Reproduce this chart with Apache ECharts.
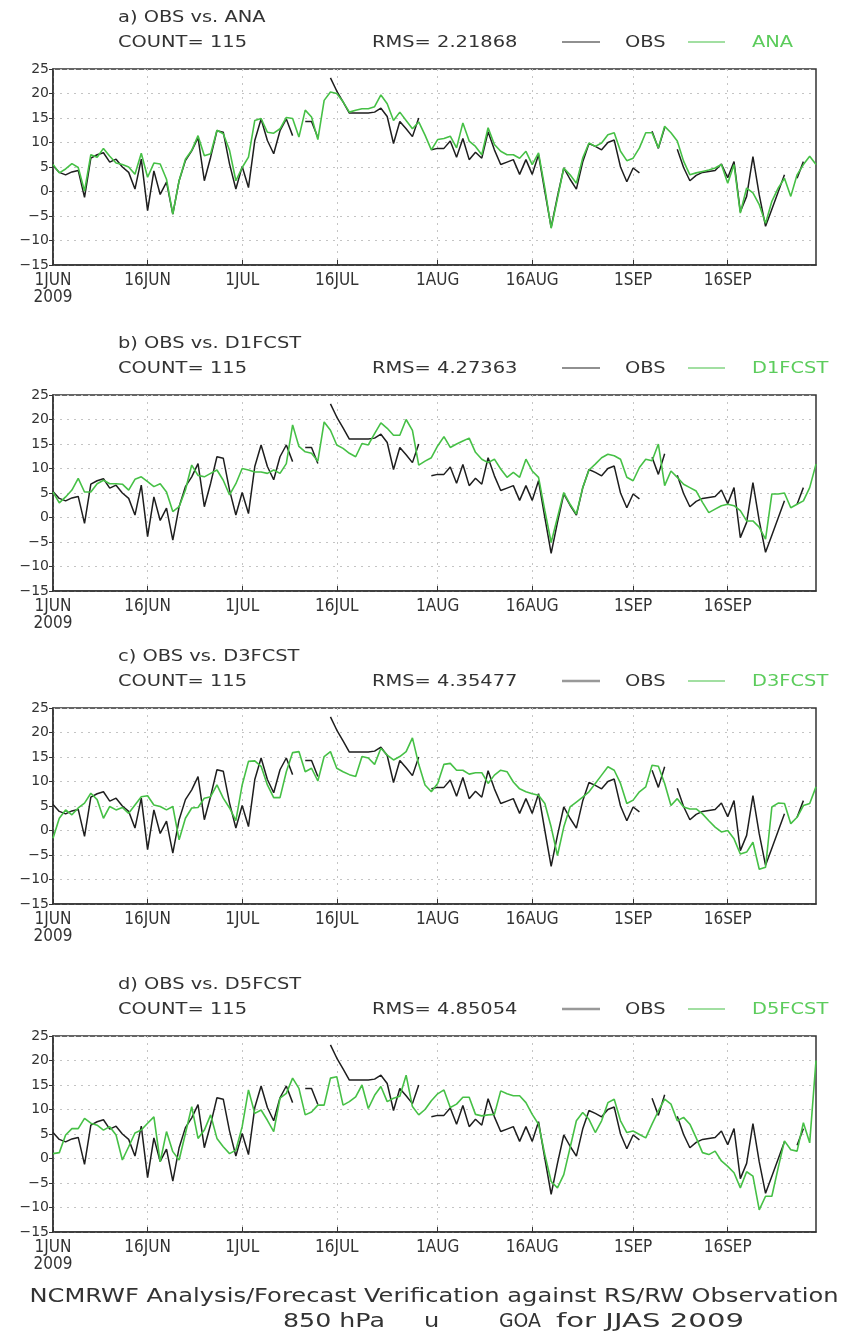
<!DOCTYPE html>
<html>
<head>
<meta charset="utf-8">
<script src="https://cdn.jsdelivr.net/npm/echarts@6/dist/echarts.min.js"></script>
<style>
  html, body { margin: 0; padding: 0; background: #fff; }
  #chart { width: 851px; height: 1335px; }
</style>
</head>
<body>
<div id="chart"></div>
<script>
// Daily categories, 1 Jun - 30 Sep 2009
const MONTHS = [['JUN', 30], ['JUL', 31], ['AUG', 31], ['SEP', 30]];
const days = [];
MONTHS.forEach(([m, n]) => { for (let i = 1; i <= n; i++) days.push(i + m); });

const TICK_DAYS = ['1JUN', '16JUN', '1JUL', '16JUL', '1AUG', '16AUG', '1SEP', '16SEP'];
const TICK_LABELS = ['1JUN\n2009', '16JUN', '1JUL', '16JUL', '1AUG', '16AUG', '1SEP', '16SEP'];

// Observed u (m/s), gaps are missing days
const obs = [
  5.3, 3.9, 3.4, 4.0, 4.3, -1.2, 6.8, 7.5, 7.9, 6.0,
  6.6, 5.0, 3.9, 0.5, 6.6, -3.9, 4.2, -0.6, 1.9, -4.6,
  2.2, 6.3, 8.3, 11.0, 2.2, 7.0, 12.4, 12.1, 5.6, 0.5,
  5.1, 0.8, 10.4, 14.8, 10.4, 7.7, 12.4, 14.8, 11.4, null,
  14.3, 14.3, 11.0, null, 23.2, 20.5, 18.3, 16.0, 16.0, 16.0,
  16.0, 16.2, 17.0, 15.3, 9.8, 14.3, 12.8, 11.2, 15.0, null,
  8.5, 8.8, 8.8, 10.3, 7.0, 10.8, 6.5, 8.0, 6.8, 12.2,
  8.5, 5.5, 6.0, 6.5, 3.5, 6.5, 3.5, 7.5, 0.0, -7.3,
  -1.0, 4.8, 2.5, 0.5, 6.0, 9.8, 9.2, 8.5, 10.0, 10.5,
  5.0, 2.0, 4.8, 3.8, null, 12.3, 8.8, 13.0, null, 8.6,
  4.9, 2.2, 3.3, 3.9, 4.1, 4.3, 5.6, 2.8, 6.1, -4.1,
  -1.0, 7.1, -0.7, -7.1, -3.6, -0.1, 3.4, null, 2.7, 6.1,
  null, null
];

const ana = [
  5.5, 3.8, 4.6, 5.7, 4.9, 0.1, 7.5, 7.0, 8.8, 7.2,
  5.8, 5.5, 5.0, 3.5, 7.8, 2.9, 5.8, 5.6, 2.5, -4.6,
  2.2, 6.6, 8.4, 11.4, 7.3, 7.7, 12.5, 11.8, 8.4, 2.2,
  4.9, 7.0, 14.5, 14.9, 12.1, 11.9, 12.8, 15.1, 14.9, 11.1,
  16.6, 15.2, 10.6, 18.6, 20.3, 20.0, 18.3, 16.2, 16.6, 16.9,
  16.9, 17.3, 19.7, 17.9, 14.5, 16.2, 14.5, 12.8, 14.2, 11.5,
  8.5, 10.6, 10.8, 11.3, 8.9, 14.0, 10.3, 9.2, 7.5, 13.0,
  9.6, 8.2, 7.5, 7.5, 6.8, 8.2, 5.5, 7.9, 0.7, -7.5,
  -1.4, 4.8, 3.4, 1.7, 6.8, 9.9, 9.2, 9.9, 11.6, 12.0,
  8.2, 6.3, 6.8, 8.9, 12.0, 12.0, 8.9, 13.3, 12.0, 10.3,
  6.2, 3.4, 3.8, 4.1, 4.4, 4.8, 5.5, 1.7, 5.5, -4.4,
  0.7, -0.3, -2.7, -6.5, -2.0, 0.7, 2.7, -1.0, 3.4, 5.5,
  7.2, 5.5
];

const d1fcst = [
  5.2, 3.0, 4.2, 5.6, 8.0, 5.2, 5.2, 6.9, 7.6, 6.9,
  6.9, 6.8, 5.6, 7.8, 8.3, 7.3, 6.3, 6.9, 5.2, 1.2,
  2.2, 5.6, 10.7, 8.6, 8.3, 9.0, 9.7, 7.6, 4.6, 6.9,
  10.0, 9.7, 9.3, 9.3, 9.0, 9.7, 9.0, 11.0, 18.9, 14.5,
  13.4, 13.1, 11.5, 19.5, 17.8, 14.8, 14.1, 13.1, 12.4, 15.1,
  14.8, 17.1, 19.3, 18.2, 16.8, 16.8, 20.0, 17.8, 10.7, 11.5,
  12.2, 14.6, 16.5, 14.3, 15.0, 15.6, 16.2, 13.3, 11.9, 11.2,
  11.9, 9.9, 8.2, 9.2, 8.2, 11.9, 9.5, 8.2, 1.4, -5.1,
  0.0, 5.1, 2.7, 0.7, 6.1, 9.7, 10.9, 12.2, 12.9, 12.6,
  11.9, 8.2, 7.5, 10.2, 11.9, 11.6, 15.0, 6.5, 9.5, 8.2,
  6.8, 6.1, 5.4, 3.1, 1.0, 1.7, 2.4, 2.7, 2.4, 1.4,
  -0.7, -0.7, -2.0, -4.4, 4.8, 4.8, 5.0, 2.0, 2.7, 3.4,
  6.1, 10.9
];

const d3fcst = [
  -1.6, 2.5, 4.2, 3.2, 4.6, 5.6, 7.6, 6.3, 2.5, 4.9,
  4.2, 4.7, 3.5, 5.2, 6.9, 7.1, 5.2, 4.9, 4.2, 4.9,
  -1.9, 2.5, 4.6, 4.7, 6.6, 6.9, 9.3, 6.6, 4.6, 2.0,
  9.3, 14.1, 14.2, 13.1, 9.3, 6.7, 6.7, 12.0, 15.9, 16.1,
  12.0, 12.7, 10.1, 15.1, 16.1, 12.7, 12.0, 11.4, 11.0, 15.1,
  14.8, 13.5, 16.8, 15.4, 14.4, 15.1, 16.1, 18.9, 13.5, 9.3,
  7.9, 9.6, 13.5, 13.7, 12.3, 12.3, 11.5, 11.8, 11.8, 9.6,
  11.3, 12.3, 12.0, 9.9, 8.5, 7.9, 7.5, 7.2, 5.5, 0.7,
  -5.1, 0.7, 4.8, 5.8, 6.8, 7.9, 9.6, 11.3, 13.0, 12.3,
  9.6, 5.5, 6.2, 7.9, 8.9, 13.3, 13.1, 9.6, 5.1, 6.5,
  4.8, 4.4, 4.4, 3.4, 2.0, 0.7, -0.3, 0.0, -1.7, -4.8,
  -4.4, -2.4, -7.9, -7.5, 4.8, 5.6, 5.5, 1.4, 2.7, 5.1,
  5.5, 8.9
];

const d5fcst = [
  1.0, 1.2, 4.8, 6.1, 6.1, 8.2, 7.2, 6.8, 5.8, 6.5,
  4.8, -0.3, 2.4, 5.2, 5.8, 7.2, 8.5, -0.7, 5.5, 1.4,
  -0.3, 5.1, 10.6, 4.1, 5.8, 8.9, 4.1, 2.4, 1.0, 1.7,
  6.5, 14.0, 9.2, 9.9, 7.8, 5.5, 12.3, 13.3, 16.4, 14.3,
  8.9, 9.5, 10.9, 10.9, 16.4, 16.7, 10.9, 11.6, 12.6, 15.0,
  10.2, 12.9, 14.7, 11.6, 12.3, 12.7, 17.0, 10.6, 8.9, 10.0,
  11.8, 13.2, 14.0, 10.4, 11.1, 12.5, 12.5, 9.0, 8.7, 8.9,
  9.0, 13.8, 13.2, 12.8, 12.8, 11.4, 9.0, 7.0, 0.8, -4.7,
  -6.0, -3.3, 2.2, 7.7, 9.4, 8.0, 5.3, 7.7, 11.4, 12.1,
  7.7, 5.3, 5.6, 4.9, 4.2, 7.0, 9.7, 12.1, 11.1, 7.7,
  8.4, 7.0, 4.2, 1.2, 0.8, 1.5, -0.5, -1.6, -2.9, -6.0,
  -2.7, -3.6, -10.5, -7.7, -7.7, -1.9, 3.6, 1.8, 1.5, 7.3,
  3.2, 20.0
];

const PANEL_TITLES = ['a) OBS vs. ANA', 'b) OBS vs. D1FCST', 'c) OBS vs. D3FCST', 'd) OBS vs. D5FCST'];
const PANEL_NAMES = ['ANA', 'D1FCST', 'D3FCST', 'D5FCST'];
const PANEL_SERIES = [ana, d1fcst, d3fcst, d5fcst];
const COUNTS = [115, 115, 115, 115];
const RMS_VALUES = ['2.21868', '4.27363', '4.35477', '4.85054'];

const FOOTER_LINE1 = 'NCMRWF Analysis/Forecast Verification against RS/RW Observation';
// [text, left x, width in the original (0 = keep the common stretch)]
const FOOTER_LINE2 = [['850 hPa', 283, 102], ['u', 424, 0], ['GOA', 499, 42], ['for JJAS 2009', 556, 188]];

const PANEL_TOPS = [69, 395, 708, 1036];
const PLOT_H = 196;
const GREEN = '#46c046';
const TEXT_COLOR = '#333';
const FONT = "'DejaVu Sans', sans-serif";
const NARROW = "'DejaVu Sans Condensed', 'Liberation Sans Narrow', 'DejaVu Sans', sans-serif";

const tickSet = new Set(TICK_DAYS);
const labelMap = {};
TICK_DAYS.forEach((d, i) => { labelMap[d] = TICK_LABELS[i]; });

// GrADS text is wider than DejaVu: stretch texts horizontally
const measureCtx = document.createElement('canvas').getContext('2d');
function textWidth(s, size) {
    measureCtx.font = size + 'px ' + FONT;
    return measureCtx.measureText(s).width;
}
function wideText(x, y, s, scale, size, color, align) {
    return {
        type: 'text', x: x, y: y, scaleX: scale,
        style: {
            text: s, fill: color || TEXT_COLOR, font: size + 'px ' + FONT,
            textAlign: align || 'left', textVerticalAlign: 'middle'
        }
    };
}

const HEAD_SCALE = 129 / textWidth('COUNT= 115', 16);
const FOOT_SCALE = 809 / textWidth(FOOTER_LINE1, 20);

const grids = [], xAxes = [], yAxes = [], series = [], graphics = [];

PANEL_TOPS.forEach((top, i) => {
    grids.push({
        left: 53, width: 763, top: top, height: PLOT_H,
        show: true, borderColor: '#333', borderWidth: 1.5, backgroundColor: '#fff'
    });

    xAxes.push({
        type: 'category',
        gridIndex: i,
        data: days,
        boundaryGap: false,
        axisLine: { onZero: false, lineStyle: { color: '#333', width: 1.5 } },
        axisTick: {
            inside: true, length: 5,
            interval: (idx, val) => tickSet.has(val),
            lineStyle: { color: '#333' }
        },
        axisLabel: {
            interval: (idx, val) => tickSet.has(val),
            formatter: (val) => labelMap[val] || '',
            fontFamily: NARROW, fontSize: 17, lineHeight: 17,
            color: TEXT_COLOR, margin: 7
        },
        splitLine: {
            show: true,
            interval: (idx, val) => tickSet.has(val),
            lineStyle: { color: '#c4c4c4', type: [2, 5], width: 1 }
        }
    });

    yAxes.push({
        type: 'value',
        gridIndex: i,
        min: -15, max: 25, interval: 5,
        axisLine: { show: true, onZero: false, lineStyle: { color: '#333', width: 1.5 } },
        axisTick: { show: true, length: 4, lineStyle: { color: '#333' } },
        axisLabel: {
            formatter: (v) => (v < 0 ? '\u2212' + (-v) : String(v)),
            fontFamily: FONT, fontSize: 14, color: TEXT_COLOR, margin: 4
        },
        splitLine: { show: true, lineStyle: { color: '#c4c4c4', type: [2, 5], width: 1 } }
    });

    series.push({
        name: 'OBS', type: 'line', xAxisIndex: i, yAxisIndex: i,
        data: obs, showSymbol: false, connectNulls: false,
        lineStyle: { color: '#1e1e1e', width: 1.5 }, z: 2
    });
    series.push({
        name: PANEL_NAMES[i], type: 'line', xAxisIndex: i, yAxisIndex: i,
        data: PANEL_SERIES[i], showSymbol: false,
        lineStyle: { color: GREEN, width: 1.6 }, z: 3
    });

    // header: title, count, rms and the little legend
    const obsLine = i < 2 ? { stroke: '#222', lineWidth: 1.2 } : { stroke: '#999', lineWidth: 2.5 };
    graphics.push(wideText(118, top - 51, PANEL_TITLES[i], HEAD_SCALE, 16));
    graphics.push(wideText(118, top - 26, 'COUNT= ' + COUNTS[i], HEAD_SCALE, 16));
    graphics.push(wideText(372, top - 26, 'RMS= ' + RMS_VALUES[i], HEAD_SCALE, 16));
    graphics.push({ type: 'line', shape: { x1: 562, y1: top - 27, x2: 600, y2: top - 27 }, style: obsLine });
    graphics.push(wideText(625, top - 26, 'OBS', HEAD_SCALE, 16));
    graphics.push({ type: 'line', shape: { x1: 688, y1: top - 27, x2: 725, y2: top - 27 }, style: { stroke: GREEN, lineWidth: 1.2 } });
    graphics.push(wideText(752, top - 26, PANEL_NAMES[i], HEAD_SCALE, 16, '#5ccc5c'));
});

// footer
graphics.push(wideText(434, 1297, FOOTER_LINE1, FOOT_SCALE, 20, TEXT_COLOR, 'center'));
FOOTER_LINE2.forEach(([s, x, w]) => {
    const scale = w ? w / textWidth(s, 20) : FOOT_SCALE;
    graphics.push(wideText(x, 1322, s, scale, 20));
});

const chart = echarts.init(document.getElementById('chart'), null, { renderer: 'canvas' });
chart.setOption({
    animation: false,
    backgroundColor: '#fff',
    grid: grids,
    xAxis: xAxes,
    yAxis: yAxes,
    series: series,
    graphic: graphics
});
</script>
</body>
</html>
